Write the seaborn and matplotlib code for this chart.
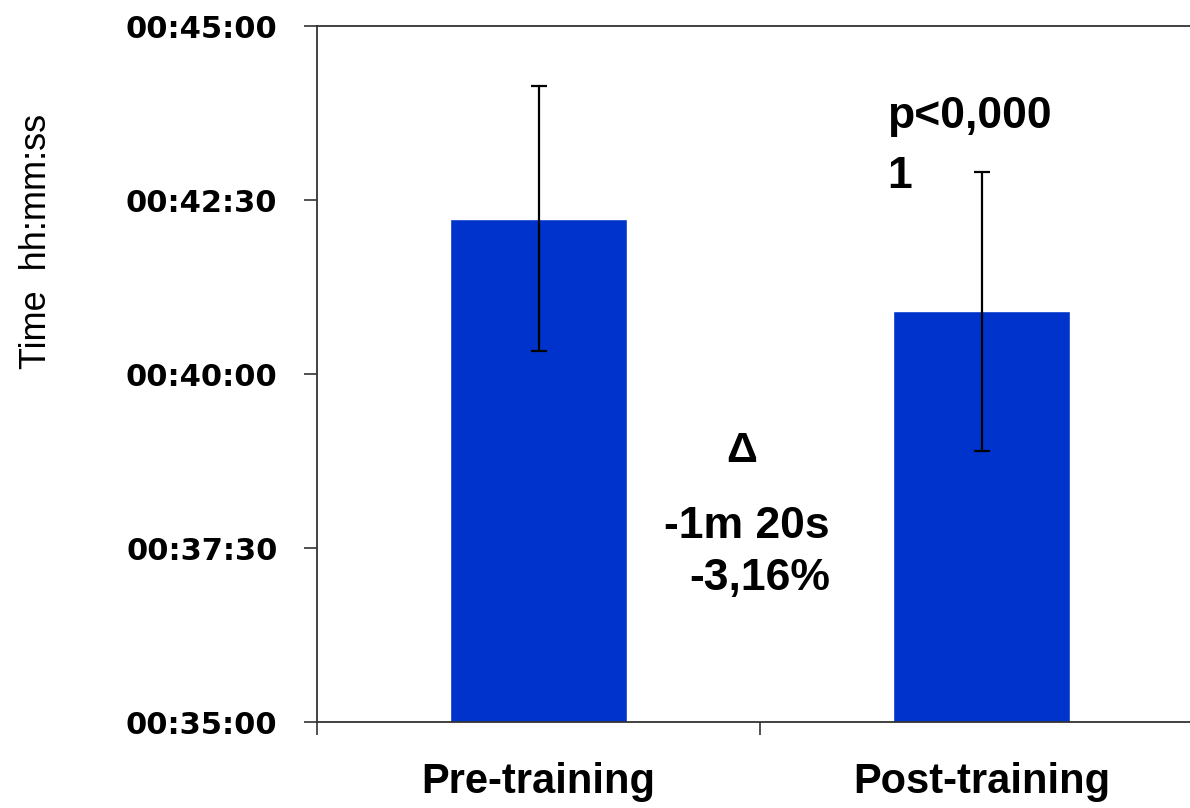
import matplotlib
matplotlib.use("Agg")
import matplotlib.pyplot as plt
import seaborn as sns
import pandas as pd
from matplotlib.ticker import FuncFormatter, FixedLocator

# ---- data (seconds) ----
categories = ["Pre-training", "Post-training"]
mean_seconds = [2534, 2454]          # 00:42:14, 00:40:54
sd_seconds = [114, 120]
y_ticks = [2100, 2250, 2400, 2550, 2700]
p_text_lines = ["p<0,000", "1"]
delta_lines = ["\u0394", "-1m 20s", "-3,16%"]
ylabel_text = "Time  hh:mm:ss"

sns.set_theme(style="white")
plt.rcParams["font.family"] = ["DejaVu Sans"]
plt.rcParams["text.color"] = "black"
plt.rcParams["axes.labelcolor"] = "black"
plt.rcParams["xtick.color"] = "black"
plt.rcParams["ytick.color"] = "black"

DPI = 100
fig = plt.figure(figsize=(11.9, 8.08), dpi=DPI)
# axes extends slightly beyond right edge as in the reference crop
ax = fig.add_axes([317 / 1190, 1 - 722 / 808, 886 / 1190, 696 / 808])

df = pd.DataFrame({"cat": categories, "sec": mean_seconds})
sns.barplot(data=df, x="cat", y="sec", ax=ax, color="#0033CC", saturation=1,
            width=0.4, errorbar=None)
ax.errorbar(x=list(range(len(categories))), y=mean_seconds, yerr=sd_seconds,
            fmt="none", ecolor="black", elinewidth=1.6, capsize=6, capthick=1.6, zorder=5)

ax.set_xlim(-0.5, 1.5)
ax.set_ylim(2100, 2700)

def fmt(v, pos):
    v = int(round(v))
    return f"{v // 3600:02d}:{(v % 3600) // 60:02d}:{v % 60:02d}"

ax.yaxis.set_major_locator(FixedLocator(y_ticks))
ax.yaxis.set_major_formatter(FuncFormatter(fmt))
for lab in ax.get_yticklabels():
    lab.set_fontweight("bold")
ax.tick_params(axis="y", which="major", direction="out", length=9.5, width=1.2,
               color="#333333", labelsize=22, labelcolor="black", pad=19, left=True)

# x: boundary ticks (major, unlabeled) + centered labels (minor, no tick)
ax.set_xticks([-0.5, 0.5, 1.5])
ax.set_xticklabels(["", "", ""])
ax.set_xticks([0, 1], minor=True)
ax.set_xticklabels(categories, minor=True, fontsize=30, fontweight="bold",
                   family=["Liberation Sans", "DejaVu Sans"], color="black")
ax.tick_params(axis="x", which="major", direction="out", length=9, width=1.2,
               color="#333333", bottom=True)
ax.tick_params(axis="x", which="minor", length=0, pad=29)
ax.set_xlabel("")

ax.set_ylabel(ylabel_text, fontsize=26, family=["Liberation Sans", "DejaVu Sans"],
              color="black")
ax.yaxis.set_label_coords(-0.297, 0.69)

for side in ["left", "bottom", "top"]:
    ax.spines[side].set_visible(True)
    ax.spines[side].set_color("#333333")
    ax.spines[side].set_linewidth(1.3)
ax.spines["right"].set_visible(False)

tfam = ["Liberation Sans", "DejaVu Sans"]
ax.text(0.787, 2612, p_text_lines[0], fontsize=32, fontweight="bold", family=tfam,
        ha="left", va="baseline")
ax.text(0.787, 2560, p_text_lines[1], fontsize=32, fontweight="bold", family=tfam,
        ha="left", va="baseline")
ax.text(0.459, 2324, delta_lines[0], fontsize=31, fontweight="bold", family=tfam,
        ha="center", va="baseline")
ax.text(0.658, 2259, delta_lines[1], fontsize=32, fontweight="bold", family=tfam,
        ha="right", va="baseline")
ax.text(0.658, 2214, delta_lines[2], fontsize=32, fontweight="bold", family=tfam,
        ha="right", va="baseline")

fig.savefig("out.png", dpi=DPI)
